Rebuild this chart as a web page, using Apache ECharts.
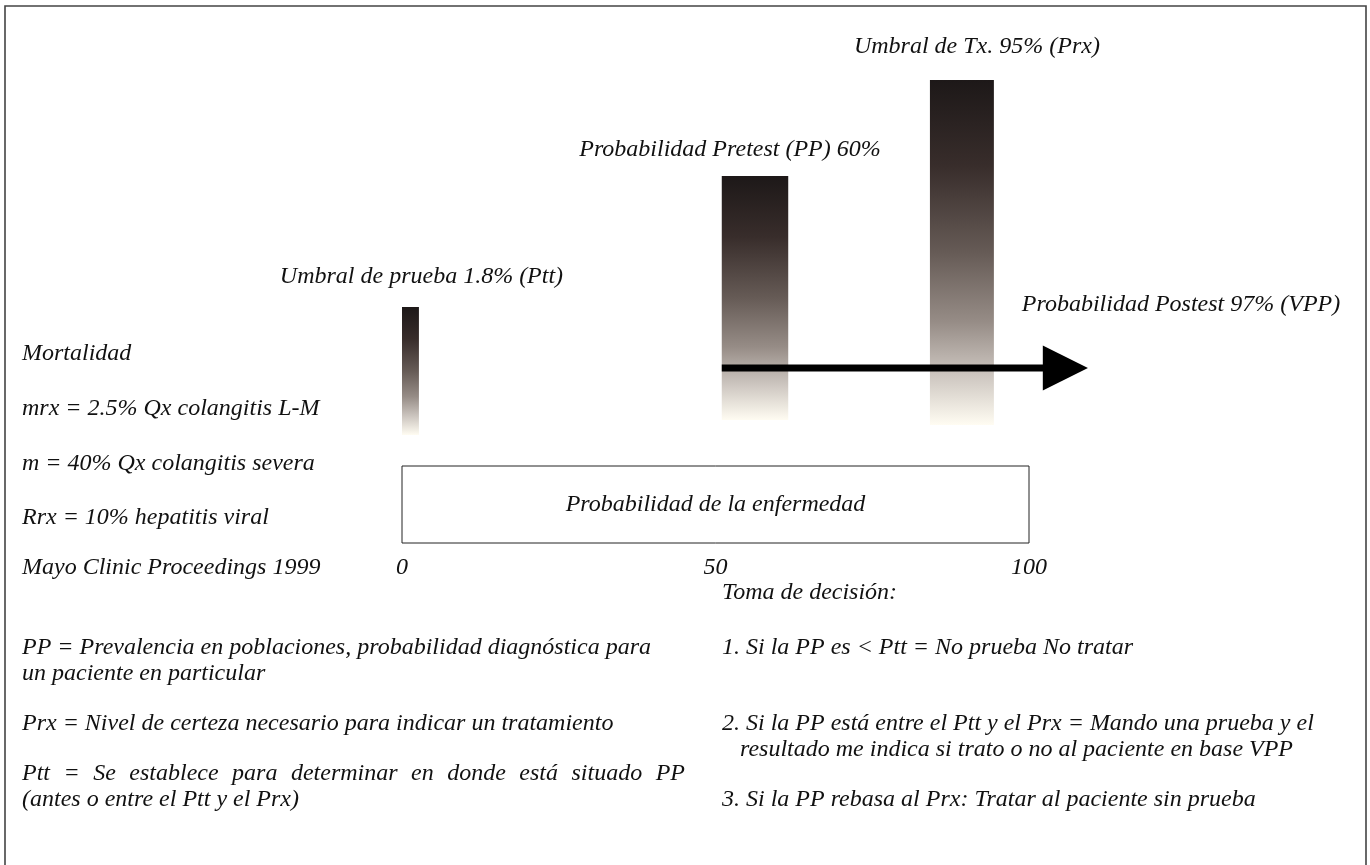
<!DOCTYPE html>
<html>
<head>
<meta charset="utf-8">
<script src="https://cdn.jsdelivr.net/npm/echarts@6/dist/echarts.min.js"></script>
<style>
  html, body { margin: 0; padding: 0; background: #fff; }
  #chart { width: 1370px; height: 865px; }
</style>
</head>
<body>
<div id="chart"></div>
<script>
// ---------- data ----------
const barNames   = ['Umbral de prueba 1.8% (Ptt)', 'Probabilidad Pretest (PP) 60%', 'Umbral de Tx. 95% (Prx)'];
const barStart   = [0, 51, 84.2];
const barEnd     = [2.7, 61.6, 94.4];
const barBottom  = [21.6, 24.6, 23.6];
const barTop     = [47.2, 73.4, 92.6];

const arrowName  = 'Probabilidad Postest 97% (VPP)';
const arrowFrom  = 51;
const arrowHead  = 102.2;
const arrowTip   = 109.4;
const arrowLevel = 35;

const scaleName  = 'Probabilidad de la enfermedad';
const scaleFrom  = 0;
const scaleTo    = 100;
const scaleTop   = 15.4;
const tickLabels = ['0', '50', '100'];

const mortalityNotes = [
  'Mortalidad',
  'mrx = 2.5% Qx colangitis L-M',
  'm = 40% Qx colangitis severa',
  'Rrx = 10% hepatitis viral',
  'Mayo Clinic Proceedings 1999'
];
const definitionNotes = [
  'PP = Prevalencia en poblaciones, probabilidad diagnóstica para',
  'un paciente en particular',
  'Prx = Nivel de certeza necesario para indicar un tratamiento',
  'Ptt = Se establece para determinar en donde está situado PP',
  '(antes o entre el Ptt y el Prx)'
];
const decisionNotes = [
  'Toma de decisión:',
  '1. Si la PP es < Ptt = No prueba No tratar',
  '2. Si la PP está entre el Ptt y el Prx = Mando una prueba y el',
  'resultado me indica si trato o no al paciente en base VPP',
  '3. Si la PP rebasa al Prx: Tratar al paciente sin prueba'
];

// ---------- styles ----------
const FONT = 'italic 24px "Liberation Serif", "Times New Roman", serif';
const TXT = '#111';
const labelOffsets = [[11, -30], [-25, -26], [15, -33]];
const mortalityY = [354, 409, 464, 518, 568];
const definitionY = [648, 674, 724, 774, 800];
const definitionJustify = [0, 0, 0, 663, 0];
const decisionY = [593, 648, 724, 750, 800];
const decisionX = [722, 722, 722, 740, 722];

const barGradient = new echarts.graphic.LinearGradient(0, 0, 0, 1, [
  { offset: 0, color: '#1d1818' },
  { offset: 0.25, color: '#382d2b' },
  { offset: 0.5, color: '#665b56' },
  { offset: 0.7, color: '#968c86' },
  { offset: 0.85, color: '#cbc4be' },
  { offset: 1, color: '#fffcf2' }
]);

const measureCtx = document.createElement('canvas').getContext('2d');
measureCtx.font = FONT;

function textLine(t, x, y, justifyWidth) {
  if (!justifyWidth) {
    return [{ type: 'text', x, y, style: { text: t, font: FONT, fill: TXT, verticalAlign: 'middle' } }];
  }
  const words = t.split(' ');
  const widths = words.map(w => measureCtx.measureText(w).width);
  const total = widths.reduce((a, b) => a + b, 0);
  const gap = (justifyWidth - total) / (words.length - 1);
  const out = [];
  let cx = x;
  words.forEach((w, i) => {
    out.push({ type: 'text', x: cx, y, style: { text: w, font: FONT, fill: TXT, verticalAlign: 'middle' } });
    cx += widths[i] + gap;
  });
  return out;
}

const chart = echarts.init(document.getElementById('chart'), null, { renderer: 'canvas' });

let graphics = [
  { type: 'rect', shape: { x: 5, y: 6, width: 1361, height: 900 },
    style: { fill: 'none', stroke: '#444', lineWidth: 1.6 }, silent: true }
];
mortalityNotes.forEach((t, i) => { graphics = graphics.concat(textLine(t, 22, mortalityY[i], 0)); });
definitionNotes.forEach((t, i) => { graphics = graphics.concat(textLine(t, 22, definitionY[i], definitionJustify[i])); });
decisionNotes.forEach((t, i) => { graphics = graphics.concat(textLine(t, decisionX[i], decisionY[i], 0)); });

const option = {
  animation: false,
  backgroundColor: '#fff',
  grid: { left: 402, right: 341, top: 43, height: 500 },
  xAxis: {
    type: 'value', min: 0, max: 100, interval: 50,
    axisLine: { show: false }, axisTick: { show: false }, splitLine: { show: false },
    axisLabel: {
      margin: 13, color: TXT, fontStyle: 'italic', fontSize: 24,
      fontFamily: '"Liberation Serif", serif',
      formatter: (v) => tickLabels[[0, 50, 100].indexOf(v)] ?? ''
    }
  },
  yAxis: { type: 'value', min: 0, max: 100, show: false },
  graphic: graphics,
  series: [
    {
      type: 'custom', name: 'escala', clip: false,
      data: [[scaleFrom, scaleTo, 0, scaleTop]],
      renderItem: (params, api) => {
        const p0 = api.coord([api.value(0), api.value(3)]);
        const p1 = api.coord([api.value(1), api.value(2)]);
        return {
          type: 'group',
          children: [
            { type: 'rect', shape: { x: p0[0], y: p0[1], width: p1[0] - p0[0], height: p1[1] - p0[1] },
              style: { fill: '#fff', stroke: '#222', lineWidth: 1 } },
            { type: 'text', x: (p0[0] + p1[0]) / 2, y: (p0[1] + p1[1]) / 2,
              style: { text: scaleName, font: FONT, fill: TXT, align: 'center', verticalAlign: 'middle' } }
          ]
        };
      }
    },
    {
      type: 'custom', name: 'umbrales', clip: false,
      data: barNames.map((n, i) => [barStart[i], barEnd[i], barBottom[i], barTop[i]]),
      renderItem: (params, api) => {
        const i = params.dataIndex;
        const p0 = api.coord([api.value(0), api.value(3)]);
        const p1 = api.coord([api.value(1), api.value(2)]);
        const off = labelOffsets[i];
        return {
          type: 'group',
          children: [
            { type: 'rect', shape: { x: p0[0], y: p0[1], width: p1[0] - p0[0], height: p1[1] - p0[1] },
              style: { fill: barGradient } },
            { type: 'text', x: (p0[0] + p1[0]) / 2 + off[0], y: p0[1] + off[1],
              style: { text: barNames[i], font: FONT, fill: TXT, align: 'center', verticalAlign: 'middle' } }
          ]
        };
      }
    },
    {
      type: 'custom', name: 'postest', clip: false,
      data: [[arrowFrom, arrowHead, arrowTip, arrowLevel]],
      renderItem: (params, api) => {
        const a = api.coord([api.value(0), api.value(3)]);
        const b = api.coord([api.value(1), api.value(3)]);
        const t = api.coord([api.value(2), api.value(3)]);
        const hh = 22.5;
        return {
          type: 'group',
          children: [
            { type: 'line', shape: { x1: a[0], y1: a[1], x2: b[0] + 2, y2: b[1] },
              style: { stroke: '#000', lineWidth: 7 } },
            { type: 'polygon', shape: { points: [[b[0], b[1] - hh], [t[0], t[1]], [b[0], b[1] + hh]] },
              style: { fill: '#000' } },
            { type: 'text', x: 1181, y: t[1] - 63,
              style: { text: arrowName, font: FONT, fill: TXT, align: 'center', verticalAlign: 'middle' } }
          ]
        };
      }
    }
  ]
};
chart.setOption(option);
</script>
</body>
</html>
